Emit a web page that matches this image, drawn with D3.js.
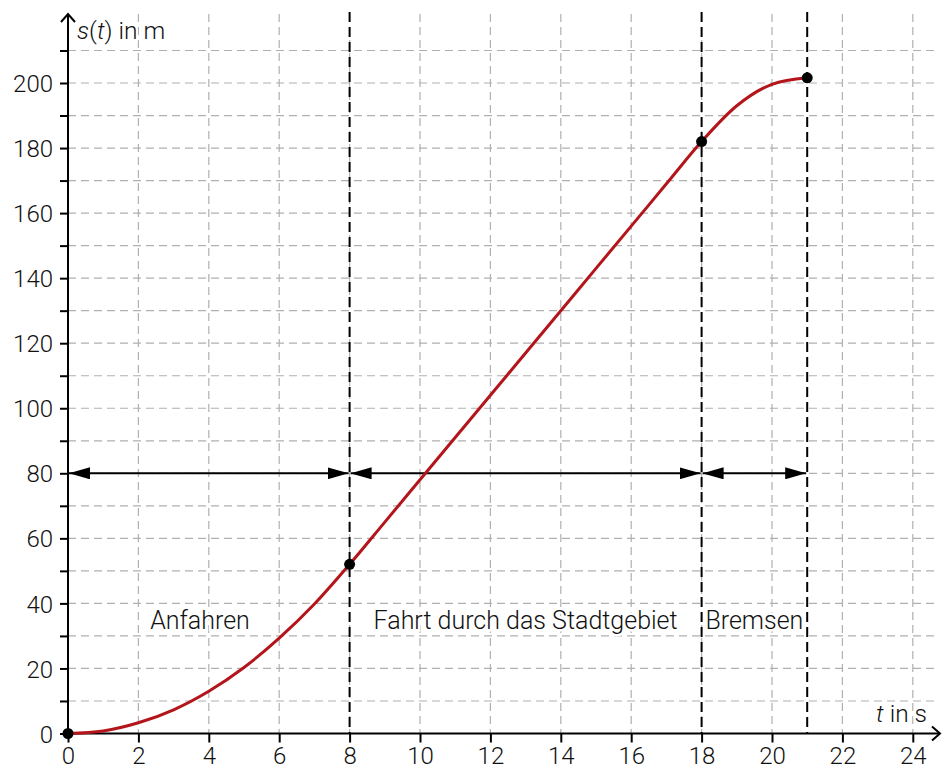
<!DOCTYPE html>
<html>
<head>
<meta charset="utf-8">
<script src="https://cdn.jsdelivr.net/npm/d3@7"></script>
<style>
  html, body { margin: 0; padding: 0; background: #fff; }
  svg { display: block; }
  text { font-family: Roboto, "Liberation Sans", Arial, sans-serif; font-weight: 300; fill: #111; }
</style>
</head>
<body>
<script>
// ---- data ----
const timeValues = [0, 1, 2, 3, 4, 5, 6, 7, 8, 9, 10, 11, 12, 13, 14, 15, 16, 17, 18, 19, 20, 21];
const distanceValues = [0, 0.8, 3.3, 7.3, 13, 20.3, 29.3, 39.8, 52, 65, 78, 91, 104, 117, 130, 143, 156, 169, 182, 193, 199.6, 201.6];
const markedTimes = [0, 8, 18, 21];
const markedDistances = [0, 52, 182, 201.6];
const phaseBounds = [8, 18, 21];
const arrowSpans = [[0, 8], [8, 18], [18, 21]];
const arrowLevel = 80;
const phaseLabels = ["Anfahren", "Fahrt durch das Stadtgebiet", "Bremsen"];
const phaseLabelT = [3.75, 13, 19.5];
const phaseLabelS = 32;
const xTickValues = [0, 2, 4, 6, 8, 10, 12, 14, 16, 18, 20, 22, 24];
const yTickValues = [0, 10, 20, 30, 40, 50, 60, 70, 80, 90, 100, 110, 120, 130, 140, 150, 160, 170, 180, 190, 200, 210];
const yLabelValues = [0, 20, 40, 60, 80, 100, 120, 140, 160, 180, 200];
const yGridValues = [10, 20, 30, 40, 50, 60, 70, 80, 90, 100, 110, 120, 130, 140, 150, 160, 170, 180, 190, 200, 210];
const xGridValues = [2, 4, 6, 8, 10, 12, 14, 16, 18, 20, 22, 24];

// ---- layout ----
const W = 943, H = 774;
const x = d3.scaleLinear().domain([0, 24]).range([68, 912.8]);
const y = d3.scaleLinear().domain([0, 200]).range([733.5, 83]);
const topY = 14;
const rightX = 940;

const svg = d3.select("body").append("svg").attr("width", W).attr("height", H);

// grid
const grid = svg.append("g").attr("stroke", "#b0b0b0").attr("stroke-width", 1.2).attr("stroke-dasharray", "8,5");
grid.selectAll("line.h").data(yGridValues).join("line")
  .attr("x1", x(0)).attr("x2", rightX - 2)
  .attr("y1", d => y(d)).attr("y2", d => y(d));
grid.selectAll("line.v").data(xGridValues).join("line")
  .attr("x1", d => x(d)).attr("x2", d => x(d))
  .attr("y1", topY).attr("y2", y(0));

// phase boundary lines
svg.append("g").selectAll("line").data(phaseBounds).join("line")
  .attr("x1", d => x(d)).attr("x2", d => x(d))
  .attr("y1", topY - 2).attr("y2", y(0))
  .attr("stroke", "#000").attr("stroke-width", 2).attr("stroke-dasharray", "10,5");

// phase labels (with white halo)
svg.append("g").selectAll("text").data(phaseLabels).join("text")
  .attr("x", (d, i) => x(phaseLabelT[i]))
  .attr("y", y(phaseLabelS))
  .attr("text-anchor", "middle")
  .attr("font-size", 25)
  .attr("stroke", "#fff").attr("stroke-width", 5).attr("paint-order", "stroke")
  .text(d => d);

// axes via d3
const yAxis = d3.axisLeft(y).tickValues(yTickValues).tickSize(8).tickPadding(7)
  .tickFormat(d => yLabelValues.includes(d) ? d : "");
const gy = svg.append("g").attr("transform", `translate(${x(0)},0)`).call(yAxis);
gy.select(".domain").remove();
gy.selectAll(".tick line").attr("stroke", "#000").attr("stroke-width", 2);
gy.selectAll(".tick text").attr("font-size", 24).attr("font-family", null).attr("dy", "0.36em")
  .attr("fill", "#111");

const xAxis = d3.axisBottom(x).tickValues(xTickValues).tickSize(9).tickPadding(4);
const gx = svg.append("g").attr("transform", `translate(0,${y(0)})`).call(xAxis);
gx.select(".domain").remove();
gx.selectAll(".tick line").attr("stroke", "#000").attr("stroke-width", 2);
gx.selectAll(".tick text").attr("font-size", 24).attr("font-family", null).attr("fill", "#111");

// axis lines with open arrow heads
const axisG = svg.append("g").attr("stroke", "#000").attr("stroke-width", 2).attr("fill", "none");
axisG.append("line").attr("x1", x(0)).attr("x2", x(0)).attr("y1", y(0)).attr("y2", topY);
axisG.append("path").attr("d", `M${x(0) - 7},${topY + 8} L${x(0)},${topY} L${x(0) + 7},${topY + 8}`);
axisG.append("line").attr("x1", x(0)).attr("x2", rightX).attr("y1", y(0)).attr("y2", y(0));
axisG.append("path").attr("d", `M${rightX - 8},${y(0) - 7} L${rightX},${y(0)} L${rightX - 8},${y(0) + 7}`);

// axis titles
const yTitle = svg.append("text").attr("x", x(0) + 9).attr("y", 39).attr("font-size", 24.5)
  .attr("stroke", "#fff").attr("stroke-width", 4).attr("paint-order", "stroke");
yTitle.append("tspan").attr("font-style", "italic").text("s");
yTitle.append("tspan").text("(");
yTitle.append("tspan").attr("font-style", "italic").text("t");
yTitle.append("tspan").text(") in m");
const xTitle = svg.append("text").attr("x", 927).attr("y", 722).attr("font-size", 24.5)
  .attr("text-anchor", "end")
  .attr("stroke", "#fff").attr("stroke-width", 4).attr("paint-order", "stroke");
xTitle.append("tspan").attr("font-style", "italic").text("t");
xTitle.append("tspan").text(" in s");

// double-headed arrows at s = 80
const defs = svg.append("defs");
defs.append("marker").attr("id", "ah").attr("viewBox", "0 0 21 12")
  .attr("refX", 21).attr("refY", 6).attr("markerWidth", 21).attr("markerHeight", 12)
  .attr("markerUnits", "userSpaceOnUse").attr("orient", "auto-start-reverse")
  .append("path").attr("d", "M0,0 L21,6 L0,12 Z").attr("fill", "#000");
svg.append("g").selectAll("line").data(arrowSpans).join("line")
  .attr("x1", d => x(d[0]) + 1).attr("x2", d => x(d[1]) - 1)
  .attr("y1", y(arrowLevel)).attr("y2", y(arrowLevel))
  .attr("stroke", "#000").attr("stroke-width", 2)
  .attr("marker-start", "url(#ah)").attr("marker-end", "url(#ah)");

// curve
const pts = timeValues.map((t, i) => [t, distanceValues[i]]);
svg.append("path").datum(pts)
  .attr("d", d3.line().x(d => x(d[0])).y(d => y(d[1])).curve(d3.curveMonotoneX))
  .attr("fill", "none").attr("stroke", "#b3151b").attr("stroke-width", 3);

// marked points
svg.append("g").selectAll("circle").data(markedTimes).join("circle")
  .attr("cx", d => x(d)).attr("cy", (d, i) => y(markedDistances[i]))
  .attr("r", 5.5).attr("fill", "#000");
</script>
</body>
</html>
